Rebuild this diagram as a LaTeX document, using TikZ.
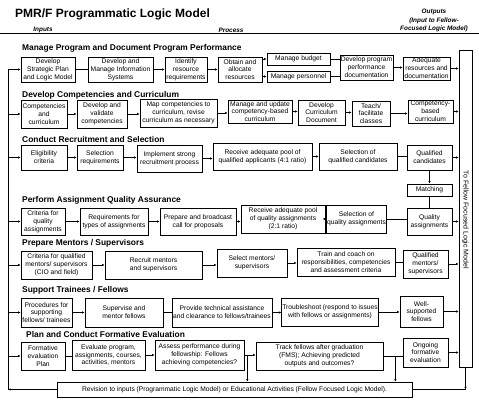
\documentclass[tikz,border=0pt]{standalone}
\usepackage{fontspec}
\setmainfont{Liberation Sans}
\usetikzlibrary{arrows.meta,shadows}

\tikzset{
  blk/.style={draw, line width=0.7pt, fill=white, align=center, inner sep=0.5pt,
    font=\fontsize{6.7}{7.9}\selectfont,
    drop shadow={shadow xshift=0.9pt, shadow yshift=-0.9pt, fill=black, opacity=1}},
  sz/.style 2 args={minimum width=#1pt, minimum height=#2pt},
  lnk/.style={line width=0.6pt},
  arr/.style={lnk, -{Latex[length=2.6pt,width=2.4pt]}},
  sect/.style={anchor=west, inner sep=0pt, font=\bfseries\fontsize{8.4}{9}\selectfont},
  colhd/.style={inner sep=0pt, align=center, font=\bfseries\itshape\fontsize{6.4}{8.5}\selectfont},
}

\begin{document}
\begin{tikzpicture}[x=1pt, y=-1pt]
\useasboundingbox[fill=white] (0,0) rectangle (479,408);

\node[anchor=west, inner sep=0pt, font=\bfseries\fontsize{12}{14}\selectfont] (title) at (15,14) {PMR/F Programmatic Logic Model};
\node[colhd] (inputs) at (43,30) {Inputs};
\node[colhd] (process) at (231,30) {Process};
\node[colhd] (outputs) at (434,20.5) {Outputs\\(Input to Fellow-\\Focused Logic Model)};
\draw[line width=0.8pt] (0,33.5) -- (479,33.5);

\node[sect] (s1) at (22,48) {Manage Program and Document Program Performance};
\node[sect] (s2) at (22,95) {Develop Competencies and Curriculum};
\node[sect] (s3) at (22,139) {Conduct Recruitment and Selection};
\node[sect] (s4) at (22,200) {Perform Assignment Quality Assurance};
\node[sect] (s5) at (22,243) {Prepare Mentors / Supervisors};
\node[sect] (s6) at (22,290) {Support Trainees / Fellows};
\node[sect] (s7) at (26,334) {Plan and Conduct Formative Evaluation};

\node[blk, sz={54}{25}] (b1) at (48,69.5) {Develop\\Strategic Plan\\and Logic Model};
\node[blk, sz={65}{25}] (b2) at (120.5,69.5) {Develop and\\Manage Information\\Systems};
\node[blk, sz={42}{25}] (b3) at (186,69.5) {Identify\\resource\\requirements};
\node[blk, sz={44}{25}] (b4) at (240,69.5) {Obtain and\\allocate\\resources};
\node[blk, sz={63}{12}] (b5) at (298.5,59) {Manage budget};
\node[blk, sz={63}{11}] (b6) at (298.5,76.5) {Manage personnel};
\node[blk, sz={53}{25}] (b7) at (366.5,67.5) {Develop program\\performance\\documentation};
\node[blk, sz={47}{23}] (b8) at (426.5,68.5) {Adequate\\resources and\\documentation};

\node[blk, sz={46}{28}] (c1) at (44,114) {Competencies\\and\\curriculum};
\node[blk, sz={50}{28}] (c2) at (102,114) {Develop and\\validate\\competencies};
\node[blk, sz={77}{28}] (c3) at (178.5,113) {Map competencies to\\curriculum, revise\\curriculum as necessary};
\node[blk, sz={64}{23}] (c4) at (260,111.5) {Manage and update\\competency-based\\curriculum};
\node[blk, sz={47}{25}] (c5) at (321.5,112.5) {Develop\\Curriculum\\Document};
\node[blk, sz={38}{25}] (c6) at (371,113.5) {Teach/\\facilitate\\classes};
\node[blk, sz={45}{23}] (c7) at (430.5,111.5) {Competency-\\based\\curriculum};

\node[blk, sz={46}{25}] (d1) at (44,157.5) {Eligibility\\criteria};
\node[blk, sz={46}{25}] (d2) at (100,157.5) {Selection\\requirements};
\node[blk, sz={65}{27}] (d3) at (169.5,158.5) {Implement strong\\recruitment process};
\node[blk, sz={99}{27}] (d4) at (262.5,156.5) {Receive adequate pool of\\qualified applicants (4:1 ratio)};
\node[blk, sz={78}{27}] (d5) at (358,156.5) {Selection of\\qualified candidates};
\node[blk, sz={45}{25}] (d6) at (429.5,157.5) {Qualified\\candidates};
\node[blk, sz={45}{12}] (d7) at (429.5,190) {Matching};

\node[blk, sz={44}{27}] (e1) at (43,221.5) {Criteria for\\quality\\assignments};
\node[blk, sz={68}{27}] (e2) at (114,221.5) {Requirements for\\types of assignments};
\node[blk, sz={76}{27}] (e3) at (198,221.5) {Prepare and broadcast\\call for proposals};
\node[blk, sz={84}{28}] (e4) at (283,219) {Receive adequate pool\\of quality assignments\\(2:1 ratio)};
\node[blk, sz={53}{28}] (e5) at (356.5,219) {Selection of\\quality assignments};
\node[blk, sz={45}{27}] (e6) at (429.5,221.5) {Quality\\assignments};

\node[blk, sz={71}{28}] (f1) at (56.5,265) {Criteria for qualified\\mentors/ supervisors\\(CIO and field)};
\node[blk, sz={97}{28}] (f2) at (153.5,265) {Recruit mentors\\and supervisors};
\node[blk, sz={70}{28}] (f3) at (252,263) {Select mentors/\\supervisors};
\node[blk, sz={98}{28}] (f4) at (346,262) {Train and coach on\\responsibilities, competencies\\and assessment criteria};
\node[blk, sz={45}{28}] (f5) at (425.5,264) {Qualified\\mentors/\\supervisors};

\node[blk, sz={51}{29}] (g1) at (46.5,312.5) {Procedures for\\supporting\\fellows/ trainees};
\node[blk, sz={78}{29}] (g2) at (124,312.5) {Supervise and\\mentor fellows};
\node[blk, sz={100}{29}] (g3) at (222,312.5) {Provide technical assistance\\and clearance to fellows/trainees};
\node[blk, sz={94}{28}] (g4) at (330,312) {Troubleshoot (respond to issues\\with fellows or assignments)};
\node[blk, sz={43}{31}] (g5) at (421.5,311.5) {Well-\\supported\\fellows};

\node[blk, sz={44}{28}] (h1) at (43,356) {Formative\\evaluation\\Plan};
\node[blk, sz={73}{30}] (h2) at (108.5,355) {Evaluate program,\\assignments, courses,\\activities, mentors};
\node[blk, sz={89}{30}] (h3) at (199.5,355) {Assess performance during\\fellowship: Fellows\\achieving competencies?};
\node[blk, sz={127}{28}] (h4) at (319.5,356) {Track fellows after graduation\\(FMS); Achieving predicted\\outputs and outcomes?};
\node[blk, sz={45}{29}] (h5) at (425.5,352.5) {Ongoing\\formative\\evaluation};

\node[blk, sz={13}{317}] (out) at (465.5,208.5) {};
\node[rotate=-90, inner sep=0pt, font=\fontsize{7}{8}\selectfont] (outtxt) at (465.5,220) {To Fellow Focused Logic Model};
\node[blk, sz={355}{15}] (rev) at (234.5,389.5) {Revision to inputs (Programmatic Logic Model) or Educational Activities (Fellow Focused Logic Model).};

\foreach \a/\b in {b2/b3, b3/b4, b7/b8, c1/c2, c2/c3, c3/c4, c4/c5, c5/c6, c6/c7,
    d1/d2, d2/d3, d3/d4, d4/d5, e1/e2, e2/e3, e3/e4, e4/e5, f1/f2, f2/f3, f3/f4,
    g1/g2, g3/g4, g4/g5, h2/h3, h3/h4}
  \draw[arr] (\a.east) -- (\a.east -| \b.west);
\foreach \a/\b in {b1/b2, b5/b7, b6/b7, d5/d6, e5/e6, f4/f5, g2/g3, h1/h2, h4/h5}
  \draw[lnk] (\a.east) -- (\a.east -| \b.west);
\draw[arr] (b5.west -| b4.east) -- (b5.west);
\draw[arr] (b6.west -| b4.east) -- (b6.west);
\draw[arr] (d6.south) -- (d7.north);
\draw[lnk] (d7.south) -- (e6.north);

\foreach \a in {b8, c7, d6, e6, f5, g5, h5}
  \draw[arr] (\a.east) -- (\a.east -| out.west);

\coordinate (bustop) at (8,69.5);
\coordinate (busbot) at (bustop |- rev.west);
\draw[arr] (rev.west) -- (busbot);
\draw[lnk] (busbot) -- (bustop);
\foreach \a in {b1, c1, d1, e1, f1, g1, h1}
  \draw[arr] (\a.west -| bustop) -- (\a.west);

\coordinate (tap1) at ([xshift=3pt]h3.east);
\coordinate (tap2) at ([xshift=12pt]h4.east);
\draw[arr] (tap1) -- (tap1 |- rev.north);
\draw[arr] (tap2) -- (tap2 |- rev.north);
\coordinate (outc) at (out.south |- rev.east);
\draw[arr] (out.south) -- (outc);
\draw[lnk] (outc) -- (rev.east);
\end{tikzpicture}
\end{document}
